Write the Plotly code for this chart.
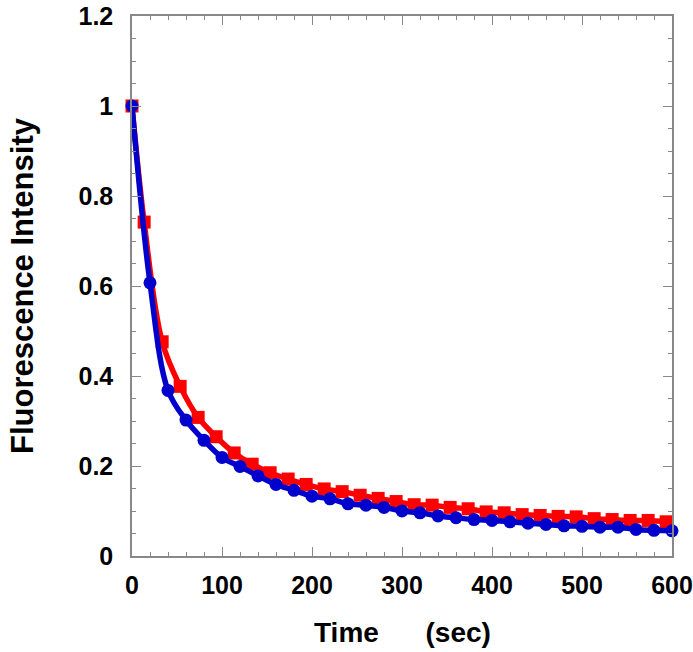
import plotly.graph_objects as go

# Data
blue_time = [0, 20, 40, 60, 80, 100, 120, 140, 160, 180, 200, 220, 240, 260, 280, 300,
             320, 340, 360, 380, 400, 420, 440, 460, 480, 500, 520, 540, 560, 580, 600]
blue_intensity = [1.0, 0.607, 0.368, 0.302, 0.257, 0.219, 0.199, 0.178, 0.159, 0.146, 0.133,
                  0.127, 0.116, 0.113, 0.108, 0.100, 0.096, 0.089, 0.085, 0.081, 0.079,
                  0.076, 0.073, 0.070, 0.067, 0.066, 0.064, 0.064, 0.059, 0.057, 0.056]

red_time = [0, 13.5, 33.5, 53.5, 73.5, 93.5, 113.5, 133.5, 153.5, 173.5, 193.5, 213.5,
            233.5, 253.5, 273.5, 293.5, 313.5, 333.5, 353.5, 373.5, 393.5, 413.5, 433.5,
            453.5, 473.5, 493.5, 513.5, 533.5, 553.5, 573.5, 593.5]
red_intensity = [1.0, 0.742, 0.476, 0.377, 0.308, 0.265, 0.229, 0.204, 0.185, 0.171, 0.159,
                 0.149, 0.143, 0.135, 0.128, 0.121, 0.114, 0.113, 0.108, 0.105, 0.098,
                 0.096, 0.092, 0.090, 0.088, 0.087, 0.083, 0.081, 0.079, 0.079, 0.076]

x_range = [0, 600]
y_range = [0, 1.2]

FONT = "Liberation Sans, Arial, sans-serif"
BLUE = "#0000CC"
RED = "#FF0000"
AXIS = "#888888"

fig = go.Figure()
fig.add_trace(go.Scatter(
    x=red_time, y=red_intensity, mode="lines+markers",
    line=dict(color=RED, width=5.5, shape="spline", smoothing=1),
    marker=dict(symbol="square", size=13, color=RED),
    cliponaxis=False, showlegend=False))
fig.add_trace(go.Scatter(
    x=blue_time, y=blue_intensity, mode="lines+markers",
    line=dict(color=BLUE, width=5.5, shape="spline", smoothing=1),
    marker=dict(symbol="circle", size=13, color=BLUE),
    cliponaxis=False, showlegend=False))

tickfont = dict(family=FONT, size=25, color="black", weight="bold")
common = dict(showline=True, linecolor=AXIS, linewidth=1.5, ticks="inside",
              tickcolor=AXIS, tickwidth=1, ticklen=9, showgrid=False, zeroline=False,
              automargin=False, ticklabeloverflow="allow")

fig.update_layout(
    width=693, height=652,
    margin=dict(l=132, r=21, t=16, b=96),
    paper_bgcolor="white", plot_bgcolor="white",
    xaxis=dict(range=x_range, dtick=100, tick0=0, tickfont=tickfont,
               ticklabelstandoff=6,
               minor=dict(ticks="inside", dtick=20, ticklen=4, tickcolor=AXIS, tickwidth=1),
               **common),
    yaxis=dict(range=y_range, dtick=0.2, tick0=0, tickfont=tickfont,
               ticklabelstandoff=12,
               minor=dict(ticks="inside", dtick=0.05, ticklen=4, tickcolor=AXIS, tickwidth=1),
               **common),
    xaxis2=dict(range=x_range, dtick=100, tick0=0, overlaying="x", side="top",
                showticklabels=False, anchor="y",
                minor=dict(ticks="inside", dtick=20, ticklen=4, tickcolor=AXIS, tickwidth=1),
                **common),
    yaxis2=dict(range=y_range, dtick=0.2, tick0=0, overlaying="y", side="right",
                showticklabels=False, anchor="x",
                minor=dict(ticks="inside", dtick=0.05, ticklen=4, tickcolor=AXIS, tickwidth=1),
                **common),
)

# invisible trace to activate the mirror axes
fig.add_trace(go.Scatter(x=[None], y=[None], xaxis="x2", yaxis="y2",
                         showlegend=False, hoverinfo="skip"))

fig.add_annotation(text="Time      (sec)", xref="paper", yref="paper",
                   x=0.5, y=0, yshift=-76, yanchor="middle", showarrow=False,
                   font=dict(family=FONT, size=28, color="black", weight="bold"))
fig.add_annotation(text="Fluorescence Intensity", xref="paper", yref="paper",
                   x=0, xshift=-110, y=0.5, textangle=-90, xanchor="center",
                   yanchor="middle", showarrow=False,
                   font=dict(family=FONT, size=31, color="black", weight="bold"))

fig.write_html("out.html", config={"displayModeBar": False},
               post_script="document.body.style.margin='0px';")
